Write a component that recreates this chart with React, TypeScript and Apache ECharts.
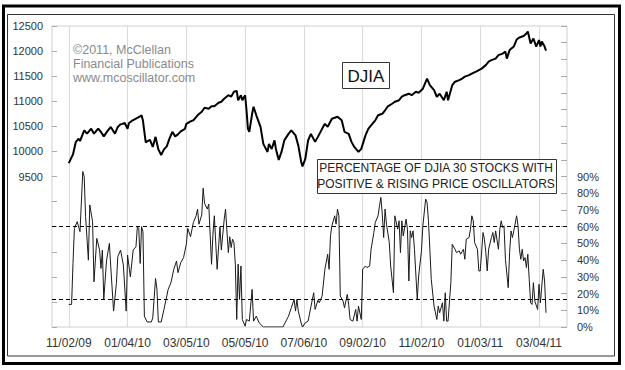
import React, { useEffect, useRef } from "react";
import * as echarts from "echarts";

// ---- data (trading-day offset from 11/02/09) ----
const tickDays = [0, 42, 84, 126, 168, 210, 252, 294, 336];
const tickLabels = ["11/02/09", "01/04/10", "03/05/10", "05/05/10", "07/06/10", "09/02/10", "11/02/10", "01/03/11", "03/04/11"];

const djiaDay = [0, 3, 5, 7, 8, 11, 13, 16, 18, 21, 23, 25, 28, 30, 33, 35, 37, 40, 42, 43, 45, 48, 51, 52, 53, 54, 55, 56, 58, 60, 61, 62, 64, 66, 68, 70, 72, 74, 76, 78, 80, 83, 84, 87, 89, 92, 95, 97, 100, 102, 104, 107, 109, 111, 114, 116, 118, 120, 121, 123, 124, 126, 127, 128, 129, 131, 132, 134, 137, 139, 142, 143, 145, 147, 148, 150, 152, 154, 157, 159, 162, 164, 166, 167, 169, 171, 173, 176, 178, 181, 183, 185, 188, 192, 195, 197, 200, 202, 204, 207, 209, 212, 214, 216, 219, 221, 224, 226, 228, 231, 233, 236, 238, 240, 243, 245, 248, 250, 253, 256, 258, 261, 263, 265, 268, 270, 271, 274, 276, 279, 281, 283, 286, 288, 291, 293, 295, 298, 300, 302, 305, 307, 310, 312, 313, 315, 318, 320, 322, 325, 327, 328, 330, 332, 334, 336, 337, 338, 340, 341];
const djiaClose = [9767, 9940, 10187, 10253, 10207, 10420, 10353, 10453, 10353, 10453, 10387, 10300, 10420, 10487, 10353, 10487, 10540, 10567, 10453, 10567, 10607, 10653, 10700, 10720, 10610, 10390, 10180, 10200, 10230, 10090, 10190, 10290, 10040, 9930, 10040, 10100, 10260, 10390, 10300, 10340, 10400, 10450, 10550, 10600, 10620, 10720, 10790, 10870, 10850, 10900, 10900, 10970, 10990, 11050, 11120, 11090, 11190, 11205, 11020, 11120, 11020, 11120, 10820, 10450, 10390, 10750, 10890, 10720, 10490, 10150, 9990, 10150, 10050, 10220, 10050, 9830, 9990, 10220, 10350, 10420, 10320, 10120, 9800, 9700, 9850, 10220, 10350, 10190, 10290, 10450, 10550, 10490, 10650, 10690, 10620, 10390, 10350, 10190, 10090, 9990, 10050, 10320, 10450, 10520, 10620, 10720, 10750, 10820, 10900, 10950, 10990, 11020, 11090, 11120, 11150, 11120, 11190, 11170, 11250, 11450, 11320, 11220, 11090, 11150, 11020, 11190, 11020, 11320, 11390, 11420, 11450, 11490, 11520, 11550, 11590, 11620, 11650, 11720, 11790, 11820, 11850, 11920, 11950, 11990, 11850, 12020, 12090, 12230, 12270, 12300, 12350, 12390, 12150, 12250, 12090, 12220, 12090, 12190, 12090, 12010];

const oscDay = [0, 2, 3, 4, 6, 8, 10, 11, 12, 14, 15, 17, 18, 20, 22, 23, 24, 25, 27, 29, 30, 32, 34, 35, 37, 39, 41, 42, 44, 46, 48, 49, 50, 51, 52, 53, 54, 56, 59, 60, 62, 63, 64, 66, 68, 71, 73, 75, 77, 78, 80, 82, 84, 85, 87, 89, 91, 92, 93, 95, 96, 97, 99, 100, 102, 103, 104, 106, 108, 109, 111, 112, 114, 115, 116, 117, 118, 119, 120, 121, 122, 123, 124, 126, 127, 129, 131, 132, 134, 136, 139, 153, 157, 159, 161, 162, 163, 164, 166, 167, 169, 171, 173, 175, 176, 178, 179, 181, 183, 185, 186, 187, 188, 190, 191, 192, 193, 194, 196, 197, 199, 200, 201, 203, 205, 206, 207, 209, 210, 212, 213, 215, 216, 218, 219, 221, 222, 223, 224, 225, 226, 227, 229, 230, 232, 233, 235, 236, 237, 238, 239, 241, 242, 243, 244, 245, 246, 247, 249, 250, 252, 253, 255, 256, 257, 258, 259, 261, 263, 264, 265, 267, 268, 269, 270, 271, 273, 274, 276, 277, 279, 280, 282, 283, 284, 286, 287, 288, 289, 290, 292, 293, 294, 296, 297, 298, 299, 300, 302, 303, 304, 305, 307, 308, 309, 310, 311, 312, 314, 315, 316, 317, 318, 320, 321, 322, 323, 324, 325, 326, 327, 328, 329, 330, 331, 332, 333, 335, 336, 337, 338, 339, 340, 341];
const oscPct = [13.5, 13.5, 38, 59, 63, 57, 93, 90, 66, 40, 73, 63, 27, 53, 46, 35, 46, 16.5, 40, 50, 36, 9.5, 26, 42, 46, 37, 9.5, 43, 30, 46, 48, 60, 59, 38, 60, 57, 6.5, 3, 3, 5.5, 29, 22.5, 3, 3, 10.5, 22.5, 26.5, 34.5, 39.5, 32.5, 38.5, 41.5, 49.5, 59, 54, 62.5, 66.5, 70.5, 61.5, 67, 83, 74, 70.5, 73.5, 37.5, 55.5, 66.5, 34.5, 60, 46, 64, 70.5, 44.5, 54, 47.5, 52.5, 50.5, 37.5, 4.5, 37.5, 16.5, 36.5, 4.5, 0.5, 4.5, 3.5, 22.5, 3.5, 6.5, 2.5, 0, 0, 6.5, 11.5, 16.5, 9.5, 16.5, 9.5, 2.5, 0, 2.5, 3.5, 12, 20.5, 10.5, 16, 14.5, 18.5, 34.5, 43.5, 34.5, 54.5, 60.5, 66.5, 61.5, 70.5, 66.5, 18.5, 15.5, 11.5, 19.5, 13.5, 4.5, 3.5, 10.5, 3.5, 12.5, 4.5, 34.5, 36.5, 35.5, 36.5, 46.5, 56.5, 62.5, 66.5, 72.5, 77.5, 67.5, 53.5, 70.5, 61.5, 50.5, 36.5, 20.5, 66.5, 58.5, 63.5, 44.5, 63.5, 54.5, 64.5, 58.5, 27.5, 57.5, 53.5, 57.5, 46.5, 16.5, 30.5, 45.5, 60.5, 76.5, 74.5, 63.5, 46.5, 28.5, 12.5, 4.5, 12.5, 8.5, 14.5, 3.5, 20.5, 3.5, 3.5, 26.5, 49.5, 46.5, 44.5, 45.5, 43.5, 46.5, 40.5, 52.5, 53.5, 58.5, 66.5, 63.5, 50.5, 46.5, 33.5, 33.5, 56.5, 52.5, 44.5, 33.5, 46.5, 53.5, 56.5, 50.5, 57.5, 46.5, 58.5, 63.5, 59.5, 60.5, 40.5, 23.5, 44.5, 57.5, 53.5, 57.5, 66.5, 60.5, 46.5, 40.5, 46.5, 39.5, 41.5, 35.5, 43.5, 28.5, 14.5, 13.5, 26.5, 15.5, 10.5, 25.5, 14.5, 24.5, 34.5, 27.5, 8.5];

const upperLevel = 60;
const lowerLevel = 16.5;

const FONT = '"Liberation Sans", Arial, sans-serif';
const PAD_BEFORE = 12;
const PAD_AFTER = 20;
const LAST_DAY = 336;

export default function App() {
  const ref = useRef<HTMLDivElement>(null);
  useEffect(() => {
    if (!ref.current) return;
    const chart = echarts.init(ref.current, undefined, { renderer: "svg" });
    const n = PAD_BEFORE + LAST_DAY + PAD_AFTER + 1;
    const categories = Array.from({ length: n }, (_, i) => String(i - PAD_BEFORE));
    const labelAt: Record<number, string> = {};
    tickDays.forEach((d, i) => (labelAt[d + PAD_BEFORE] = tickLabels[i]));
    const isTick = (idx: number) => labelAt[idx] !== undefined;

    chart.setOption({
      animation: false,
      backgroundColor: "#ffffff",
      grid: {
        left: 52,
        top: 26,
        width: 515,
        height: 301,
        show: true,
        borderColor: "#cfcfcf",
        borderWidth: 1,
        backgroundColor: "#ffffff",
      },
      xAxis: {
        type: "category",
        data: categories,
        boundaryGap: false,
        axisLine: { show: false },
        axisTick: { show: false },
        axisLabel: {
          interval: (idx: number) => isTick(idx),
          formatter: (_v: string, idx: number) => labelAt[idx] ?? "",
          color: "#333",
          fontSize: 12,
          fontFamily: FONT,
          margin: 10,
        },
        splitLine: {
          show: true,
          interval: (idx: number) => isTick(idx),
          lineStyle: { color: "#dadada", width: 1 },
        },
      },
      yAxis: [
        {
          type: "value",
          min: 6500,
          max: 12500,
          interval: 500,
          position: "left",
          axisLine: { show: false },
          axisTick: { show: true, inside: true, length: 5, lineStyle: { color: "#aaa" } },
          splitLine: { show: false },
          axisLabel: {
            formatter: (v: number) => (v >= 9500 ? String(v) : ""),
            color: "#333",
            fontSize: 11,
            fontFamily: FONT,
            margin: 9,
          },
        },
        {
          type: "value",
          min: 0,
          max: 180,
          interval: 10,
          position: "right",
          axisLine: { show: false },
          axisTick: { show: true, inside: true, length: 6, lineStyle: { color: "#aaa" } },
          splitLine: { show: false },
          axisLabel: {
            formatter: (v: number) => (v <= 90 ? v + "%" : ""),
            color: "#333",
            fontSize: 11,
            fontFamily: FONT,
            margin: 10,
          },
        },
      ],
      series: [
        {
          name: "DJIA",
          type: "line",
          yAxisIndex: 0,
          symbol: "none",
          data: djiaDay.map((d, i) => [d + PAD_BEFORE, djiaClose[i]]),
          lineStyle: { color: "#000", width: 2 },
          z: 3,
        },
        {
          name: "Oscillator",
          type: "line",
          yAxisIndex: 1,
          symbol: "none",
          data: oscDay.map((d, i) => [d + PAD_BEFORE, oscPct[i]]),
          lineStyle: { color: "#1a1a1a", width: 1 },
          z: 3,
          markLine: {
            silent: true,
            symbol: "none",
            label: { show: false },
            lineStyle: { color: "#000", width: 1, type: [4, 3] },
            data: [{ yAxis: upperLevel }, { yAxis: lowerLevel }],
          },
        },
      ],
      graphic: [
        {
          type: "rect",
          shape: { x: 3.5, y: 6, width: 616, height: 357.5 },
          style: { fill: "none", stroke: "#000", lineWidth: 3 },
          z: 10,
        },
        {
          type: "rect",
          shape: { x: 7.5, y: 14.5, width: 607, height: 341.5 },
          style: { fill: "none", stroke: "#333", lineWidth: 1 },
          z: 10,
        },
        {
          type: "text",
          x: 73,
          y: 43,
          style: {
            text: "©2011, McClellan\nFinancial Publications\nwww.mcoscillator.com",
            fill: "#8a8a8a",
            font: `12.5px ${FONT}`,
            lineHeight: 14,
            verticalAlign: "top",
          },
          z: 5,
        },
        {
          type: "rect",
          shape: { x: 342.5, y: 62.5, width: 47, height: 26 },
          style: { fill: "#fff", stroke: "#333", lineWidth: 1 },
          z: 5,
        },
        {
          type: "text",
          x: 366,
          y: 76,
          style: { text: "DJIA", fill: "#111", font: `17px ${FONT}`, align: "center", verticalAlign: "middle" },
          z: 6,
        },
        {
          type: "rect",
          shape: { x: 317.5, y: 159.5, width: 239, height: 34 },
          style: { fill: "#fff", stroke: "#333", lineWidth: 1 },
          z: 5,
        },
        {
          type: "text",
          x: 436,
          y: 176,
          style: {
            text: "PERCENTAGE OF DJIA 30 STOCKS WITH\nPOSITIVE & RISING PRICE OSCILLATORS",
            fill: "#222",
            font: `12px ${FONT}`,
            lineHeight: 16,
            align: "center",
            verticalAlign: "middle",
          },
          z: 6,
        },
      ],
    });
    return () => chart.dispose();
  }, []);
  return (
    <div
      ref={ref}
      style={{ position: "absolute", left: 0, top: 0, width: 625, height: 370, background: "#fff" }}
    />
  );
}
